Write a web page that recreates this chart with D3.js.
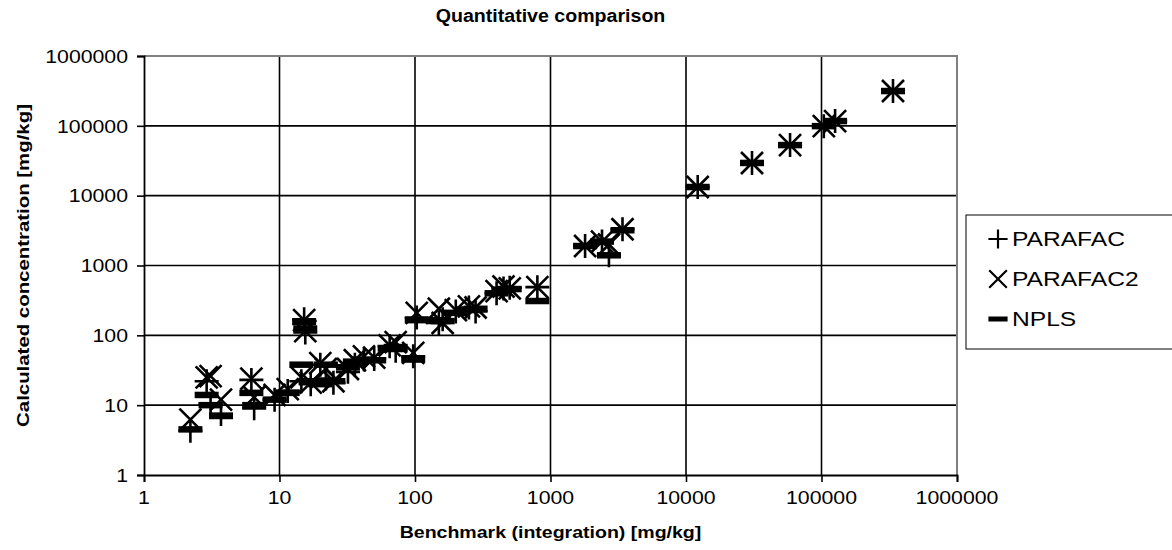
<!DOCTYPE html>
<html>
<head>
<meta charset="utf-8">
<script src="https://cdn.jsdelivr.net/npm/d3@7"></script>
<style>
  body { margin: 0; background: #fff; }
  svg { display: block; font-family: Arial, "Liberation Sans", sans-serif; }
</style>
</head>
<body>
<div id="chart"></div>
<script>
// benchmark (integration) values and what each model calculated, all in mg/kg
const benchmark = [2.2, 2.9, 3.1, 3.7, 6.2, 6.5, 9.2, 11.5, 14.5, 15.2, 15.5, 17, 20, 22, 25, 32, 36, 42, 50,
    65, 72, 97, 103, 150, 160, 200, 250, 280, 400, 450, 500, 800, 1800, 2400, 2700, 3400,
    12200, 30700, 58600, 104000, 126000, 337000];
const parafac = [4.3, 22, 10.5, 7.5, 23, 9, 12, 16, 22, 170, 110, 20, 38, 24, 21, 30, 38, 45, 46,
    70, 60, 50, 180, 150, 170, 220, 250, 220, 400, 470, 480, 490, 1900, 2200, 1400, 3300,
    13300, 29400, 53000, 99000, 117000, 315000];
const parafac2 = [6.2, 25, 26, 12, 24, 13, 14, 17, 25, 165, 115, 21, 40, 33, 22, 33, 44, 50, 48,
    72, 80, 56, 210, 240, 150, 230, 260, 250, 430, 500, 470, 490, 1900, 2200, 2000, 3300,
    13300, 29400, 53000, 99000, 117000, 315000];
const npls = [4.5, 14, 10, 7, 15, 10, 12, 15, 38, 155, 125, 22, 20, 38, 22, 35, 42, 45, 44,
    65, 68, 45, 165, 165, 160, 210, 230, 240, 400, 450, 460, 310, 1900, 2200, 1400, 3200,
    13300, 29400, 53000, 99000, 117000, 315000];

const seriesNames = ["PARAFAC", "PARAFAC2", "NPLS"];
const xTicks = [1, 10, 100, 1000, 10000, 100000, 1000000];
const yTicks = [1, 10, 100, 1000, 10000, 100000, 1000000];

const width = 1172, height = 550;
const plotLeft = 144, plotRight = 957, plotTop = 56, plotBottom = 475;

const svg = d3.select("#chart").append("svg")
    .attr("width", width)
    .attr("height", height);

const x = d3.scaleLog().domain([1, 1000000]).range([plotLeft, plotRight]);
const y = d3.scaleLog().domain([1, 1000000]).range([plotBottom, plotTop]);

// text in this chart is a bit wider than plain Arial, so stretch it horizontally
function label(g, px, py, str, size, opt = {}) {
    return g.append("text")
        .attr("transform", `translate(${px},${py}) rotate(${opt.rotate || 0}) scale(${opt.sx || 1.15},1)`)
        .attr("font-size", size)
        .attr("font-weight", opt.bold ? "bold" : null)
        .attr("text-anchor", opt.anchor || "middle")
        .attr("dy", opt.dy || null)
        .text(str);
}

// gridlines
svg.append("g")
    .selectAll("line")
    .data(yTicks.slice(1, -1))
    .join("line")
    .attr("x1", plotLeft).attr("x2", plotRight)
    .attr("y1", d => y(d)).attr("y2", d => y(d))
    .attr("stroke", "#000")
    .attr("stroke-width", 1.6);

svg.append("g")
    .selectAll("line")
    .data(xTicks.slice(1, -1))
    .join("line")
    .attr("y1", plotTop).attr("y2", plotBottom)
    .attr("x1", d => x(d)).attr("x2", d => x(d))
    .attr("stroke", "#000")
    .attr("stroke-width", 1.6);

// plot frame: grey on top and right
svg.append("path")
    .attr("d", `M${plotLeft},${plotTop}H${plotRight}V${plotBottom}`)
    .attr("fill", "none")
    .attr("stroke", "#808080")
    .attr("stroke-width", 2);

const xAxis = svg.append("g")
    .attr("transform", `translate(0,${plotBottom})`)
    .call(d3.axisBottom(x).tickValues(xTicks).tickSize(7).tickFormat(""));
const yAxis = svg.append("g")
    .attr("transform", `translate(${plotLeft},0)`)
    .call(d3.axisLeft(y).tickValues(yTicks).tickSize(7).tickFormat(""));
[xAxis, yAxis].forEach(a => {
    a.select(".domain").attr("stroke", "#000").attr("stroke-width", 1.8);
    a.selectAll(".tick line").attr("stroke", "#000").attr("stroke-width", 1.6);
});

xTicks.forEach(t => label(svg, x(t), 504, d3.format("d")(t), 18.5));
yTicks.forEach(t => label(svg, 128, y(t), d3.format("d")(t), 18.5, {anchor: "end", dy: "0.36em"}));

label(svg, (plotLeft + plotRight) / 2, 22, "Quantitative comparison", 17.5, {bold: true, sx: 1.12});
label(svg, (plotLeft + plotRight) / 2, 538, "Benchmark (integration) [mg/kg]", 17, {bold: true, sx: 1.15});
label(svg, 29, (plotTop + plotBottom) / 2, "Calculated concentration [mg/kg]", 17, {bold: true, rotate: -90, sx: 1.2});

// marker shapes
const markers = [
    s => `M${-12 * s},0H${12 * s}M0,${-12 * s}V${12 * s}`,
    s => `M${-11 * s},${-11 * s}L${11 * s},${11 * s}M${-11 * s},${11 * s}L${11 * s},${-11 * s}`,
    s => `M${-12 * s},0H${12 * s}`
];
const markerWidth = [2.6, 2.6, 6.5];

const series = [parafac, parafac2, npls];
series.forEach((vals, i) => {
    svg.append("g")
        .selectAll("path")
        .data(benchmark.map((b, j) => [b, vals[j]]))
        .join("path")
        .attr("transform", d => `translate(${x(d[0])},${y(d[1])})`)
        .attr("d", markers[i](1))
        .attr("fill", "none")
        .attr("stroke", "#000")
        .attr("stroke-width", markerWidth[i]);
});

// legend
const legend = svg.append("g");
legend.append("rect")
    .attr("x", 966).attr("y", 215)
    .attr("width", 220).attr("height", 134)
    .attr("fill", "#fff")
    .attr("stroke", "#000");

seriesNames.forEach((name, i) => {
    const ly = 239 + i * 40;
    legend.append("path")
        .attr("transform", `translate(998,${ly})`)
        .attr("d", markers[i](0.8))
        .attr("fill", "none")
        .attr("stroke", "#000")
        .attr("stroke-width", i === 2 ? 5 : 2.2);
    label(legend, 1012, ly, name, 20.5, {anchor: "start", dy: "0.36em", sx: 1.2});
});
</script>
</body>
</html>
